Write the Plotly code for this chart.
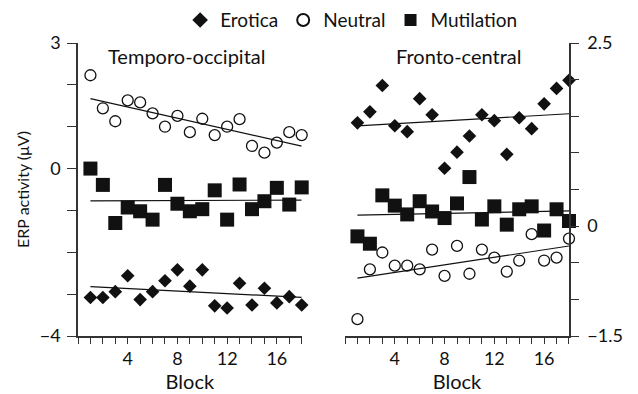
import numpy as np
import plotly.graph_objects as go

blocks = list(range(1, 19))

# Temporo-occipital (left, µV)
to_erotica = [-3.08, -3.08, -2.94, -2.56, -3.13, -2.94, -2.68, -2.42, -2.81,
              -2.42, -3.28, -3.33, -2.74, -3.26, -2.86, -3.21, -3.06, -3.26]
to_neutral = [2.23, 1.44, 1.13, 1.63, 1.58, 1.32, 1.00, 1.26, 0.87,
              1.19, 0.80, 1.00, 1.18, 0.54, 0.38, 0.62, 0.87, 0.80]
to_mutilation = [0.00, -0.39, -1.30, -0.93, -1.02, -1.22, -0.39, -0.84, -1.02,
                 -0.97, -0.52, -1.22, -0.38, -0.97, -0.78, -0.46, -0.86, -0.45]

# Fronto-central (right, µV)
fc_erotica = [1.41, 1.56, 1.92, 1.37, 1.29, 1.74, 1.52, 0.79, 1.01,
              1.23, 1.52, 1.44, 0.98, 1.48, 1.33, 1.67, 1.88, 1.99]
fc_neutral = [-1.27, -0.59, -0.36, -0.54, -0.54, -0.59, -0.32, -0.68, -0.27,
              -0.65, -0.32, -0.43, -0.62, -0.47, -0.11, -0.47, -0.43, -0.17]
fc_mutilation = [-0.14, -0.24, 0.42, 0.28, 0.16, 0.34, 0.20, 0.11, 0.31,
                 0.67, 0.09, 0.27, 0.02, 0.23, 0.27, -0.06, 0.23, 0.07]

x_ticks = [4, 8, 12, 16]
left_ticks = [-4, 0, 3]
left_labels = ["\u22124", "0", "3"]
right_ticks = [-1.5, 0, 2.5]
right_labels = ["\u22121.5", "0", "2.5"]

FONT = "Lato"
INK = "#111111"
AX = "#333333"

styles = {
    "Erotica": dict(symbol="diamond", size=10.5, color=INK, line=dict(width=0)),
    "Neutral": dict(symbol="circle-open", size=11, color=INK, line=dict(width=1.3, color=INK)),
    "Mutilation": dict(symbol="square", size=14, color=INK, line=dict(width=0)),
}

fig = go.Figure()
bx = np.array(blocks, dtype=float)


def add_series(name, vals, xa, ya, show):
    fig.add_trace(go.Scatter(x=blocks, y=vals, mode="markers", name=name,
                             marker=styles[name], xaxis=xa, yaxis=ya,
                             showlegend=show, cliponaxis=False))
    k, b = np.polyfit(bx, np.array(vals), 1)
    xs = [blocks[0], blocks[-1]]
    fig.add_trace(go.Scatter(x=xs, y=[k * v + b for v in xs], mode="lines",
                             line=dict(color=INK, width=1.2), xaxis=xa, yaxis=ya,
                             showlegend=False, hoverinfo="skip"))


add_series("Erotica", to_erotica, "x", "y", True)
add_series("Neutral", to_neutral, "x", "y", True)
add_series("Mutilation", to_mutilation, "x", "y", True)
add_series("Erotica", fc_erotica, "x2", "y2", False)
add_series("Neutral", fc_neutral, "x2", "y2", False)
add_series("Mutilation", fc_mutilation, "x2", "y2", False)

xcommon = dict(range=[0, 18], showline=True, linecolor=AX, linewidth=1.5,
               ticks="outside", ticklen=6, tickwidth=1.2, tickcolor=AX,
               tickmode="array", tickvals=x_ticks, ticktext=[str(t) for t in x_ticks],
               minor=dict(ticks="outside", dtick=1, tick0=0, ticklen=6,
                          tickwidth=1.2, tickcolor=AX),
               showgrid=False, zeroline=False, automargin=False,
               tickfont=dict(family=FONT, size=18, color=INK),
               title=dict(text="Block", font=dict(family=FONT, size=20, color=INK),
                          standoff=2))

# page has an 8px body margin: the figure occupies page x 8..638, y 8..394
fig.update_layout(
    width=630, height=386,
    margin=dict(l=70, r=69, t=35, b=58, autoexpand=False),
    paper_bgcolor="white", plot_bgcolor="white",
    font=dict(family=FONT, size=18, color=INK),
    xaxis=dict(domain=[0, 0.4556], anchor="y", **xcommon),
    xaxis2=dict(domain=[0.5438, 1], anchor="y2", **xcommon),
    yaxis=dict(range=[-4, 3], anchor="x", showline=True, linecolor=AX, linewidth=1.5,
               ticks="outside", ticklen=9, tickwidth=1.2, tickcolor=AX,
               tickmode="array", tickvals=left_ticks, ticktext=left_labels,
               ticklabelstandoff=3,
               minor=dict(ticks="outside", dtick=1, tick0=0, ticklen=9,
                          tickwidth=1.2, tickcolor=AX),
               showgrid=False, zeroline=False, automargin=False,
               tickfont=dict(family=FONT, size=18, color=INK),
               title=dict(text="ERP activity (\u03bcV)",
                          font=dict(family=FONT, size=16, color=INK), standoff=6)),
    yaxis2=dict(range=[-1.5, 2.5], anchor="x2", side="right", showline=True,
                linecolor=AX, linewidth=1.5,
                ticks="outside", ticklen=8, tickwidth=1.2, tickcolor=AX,
                tickmode="array", tickvals=right_ticks, ticktext=right_labels,
                ticklabelstandoff=5,
                minor=dict(ticks="outside", dtick=0.5, tick0=0, ticklen=8,
                           tickwidth=1.2, tickcolor=AX),
                showgrid=False, zeroline=False, automargin=False,
                tickfont=dict(family=FONT, size=18, color=INK)),
    legend=dict(orientation="h", x=0.208, xanchor="left", y=1.078, yanchor="middle",
                font=dict(family=FONT, size=19, color=INK), bgcolor="rgba(0,0,0,0)",
                itemsizing="constant", tracegroupgap=0),
    showlegend=True,
    annotations=[
        dict(text="Temporo-occipital", x=0.221, y=0.956, xref="paper", yref="paper",
             xanchor="center", yanchor="middle",
             showarrow=False, font=dict(family=FONT, size=20, color=INK)),
        dict(text="Fronto-central", x=0.774, y=0.956, xref="paper", yref="paper",
             xanchor="center", yanchor="middle",
             showarrow=False, font=dict(family=FONT, size=20, color=INK)),
    ],
)

fig.write_html("out.html")
